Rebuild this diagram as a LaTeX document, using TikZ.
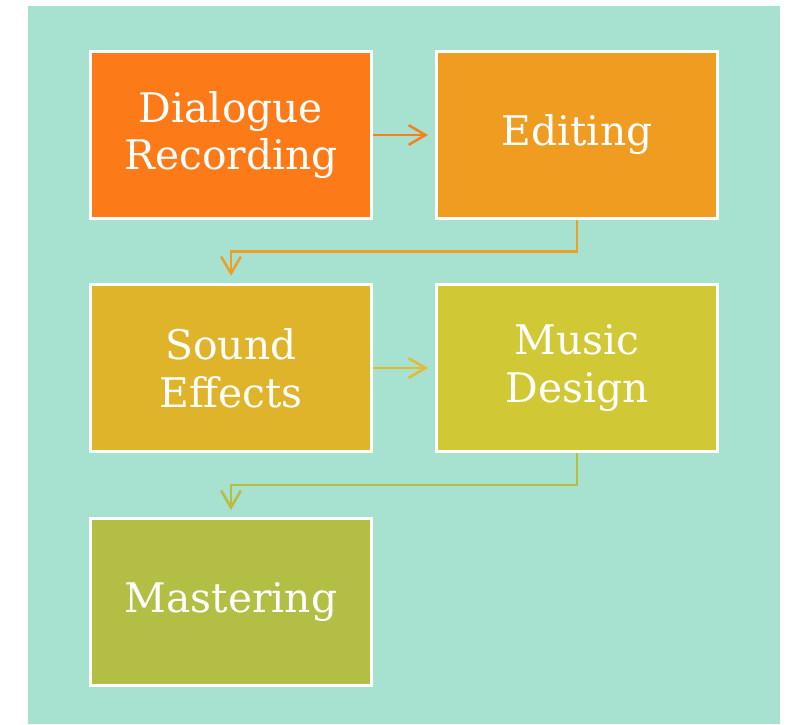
\documentclass[tikz,border=0pt]{standalone}
\usepackage{fontspec}
\setmainfont{DejaVu Serif}
\usetikzlibrary{arrows.meta,calc}
\definecolor{bgteal}{HTML}{A7E2D1}
\definecolor{stepone}{HTML}{FC7A18}
\definecolor{steptwo}{HTML}{EF9C21}
\definecolor{stepthree}{HTML}{DFB42A}
\definecolor{stepfour}{HTML}{D1C835}
\definecolor{stepfive}{HTML}{B2BF44}
\definecolor{arrowone}{HTML}{F7801E}
\definecolor{arrowtwo}{HTML}{EDA027}
\definecolor{arrowthree}{HTML}{E3BA30}
\definecolor{arrowfour}{HTML}{B8BD3C}
\begin{document}
\begin{tikzpicture}[x=0.025cm, y=-0.025cm,
  stagebox/.style={draw=white, line width=2.1pt, minimum width=7.025cm,
    minimum height=4.175cm, text=white, align=center,
    font=\fontsize{29}{34}\selectfont},
  flow/.style={line width=1.8pt, -{Straight Barb[length=12pt, width=14pt, line width=1.8pt]}, shorten >=5pt}]
\useasboundingbox (0,0) rectangle (793,724);
\fill[white] (0,0) rectangle (793,724);
\fill[bgteal] (28,6) rectangle (780,724);

\node[stagebox, fill=stepone] (dialogue) at (231,135) {Dialogue\\Recording};
\node[stagebox, fill=steptwo] (editing) at (577,135) {Editing};
\node[stagebox, fill=stepthree] (sound) at (231,368) {Sound\\Effects};
\node[stagebox, fill=stepfour] (music) at (577,368) {Music\\Design};
\node[stagebox, fill=stepfive] (mastering) at (231,602) {Mastering};

\draw[flow, arrowone] (dialogue) -- (editing);
\draw[flow, arrowtwo] (editing.south) |- ($(editing.south)!.5!(sound.north)$) -| (sound.north);
\draw[flow, arrowthree] (sound) -- (music);
\draw[flow, arrowfour] (music.south) |- ($(music.south)!.5!(mastering.north)$) -| (mastering.north);

\end{tikzpicture}
\end{document}
